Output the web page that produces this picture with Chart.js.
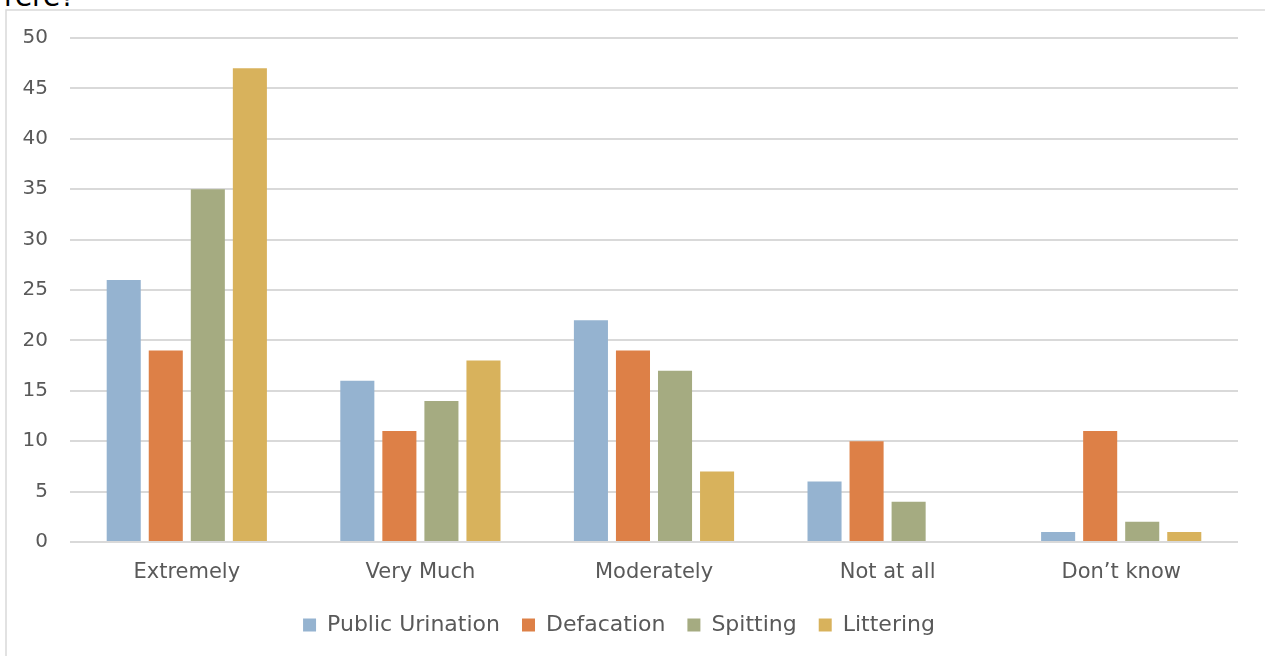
<!DOCTYPE html>
<html>
<head>
<meta charset="utf-8">
<script src="https://cdn.jsdelivr.net/npm/chart.js@4.4.0/dist/chart.umd.min.js"></script>
<style>
  html, body { margin: 0; padding: 0; background: #fff; overflow: hidden; }
  #wrap { position: relative; width: 1265px; height: 656px; }
  #cut { position: absolute; left: 4px; top: -20px; font: 28px 'DejaVu Sans', sans-serif; color: #000; white-space: nowrap; }
  canvas { position: absolute; left: 0; top: 0; }
</style>
</head>
<body>
<div id="wrap">
  <div id="cut">rere?</div>
  <canvas id="c" width="1265" height="656"></canvas>
</div>
<script>
const categories = ['Extremely', 'Very Much', 'Moderately', 'Not at all', 'Don\u2019t know'];
const publicUrination = [26, 16, 22, 6, 1];
const defacation = [19, 11, 19, 10, 11];
const spitting = [35, 14, 17, 4, 2];
const littering = [47, 18, 7, 0, 1];
const yTicks = [0, 5, 10, 15, 20, 25, 30, 35, 40, 45, 50];

const FONT = "'DejaVu Sans', sans-serif";
const mk = (label, data, color) => ({
  label, data, backgroundColor: color, borderWidth: 0,
  categoryPercentage: 0.72, barPercentage: 0.81
});

const borderPlugin = {
  id: 'outerBorder',
  beforeDraw(chart) {
    const ctx = chart.ctx;
    ctx.save();
    ctx.strokeStyle = '#d9d9d9';
    ctx.lineWidth = 1.5;
    ctx.strokeRect(6, 10, 1400, 800);
    ctx.restore();
  }
};

new Chart(document.getElementById('c'), {
  type: 'bar',
  data: {
    labels: categories,
    datasets: [
      mk('Public Urination', publicUrination, '#95b3d0'),
      mk('Defacation', defacation, '#dd8047'),
      mk('Spitting', spitting, '#a5ab81'),
      mk('Littering', littering, '#d8b25c')
    ]
  },
  options: {
    responsive: false,
    animation: false,
    layout: { padding: { left: 0, right: 27, top: 38, bottom: 10 } },
    plugins: {
      tooltip: { enabled: false },
      legend: {
        position: 'bottom',
        labels: {
          font: { family: FONT, size: 22 },
          color: '#595959',
          boxWidth: 13, boxHeight: 13,
          padding: 22
        }
      }
    },
    scales: {
      x: {
        grid: { display: false, drawTicks: false },
        border: { display: false },
        ticks: { font: { family: FONT, size: 21 }, color: '#595959', padding: 18 },
        afterFit(s) { s.height = 50; }
      },
      y: {
        min: 0, max: 50,
        afterBuildTicks(s) { s.ticks = yTicks.map(v => ({ value: v })); },
        grid: { color: '#d9d9d9', lineWidth: 2, drawTicks: false },
        border: { display: false },
        ticks: { font: { family: FONT, size: 20 }, color: '#595959', padding: 22 },
        afterFit(s) { s.width = 70; }
      }
    }
  },
  plugins: [borderPlugin]
});
</script>
</body>
</html>
